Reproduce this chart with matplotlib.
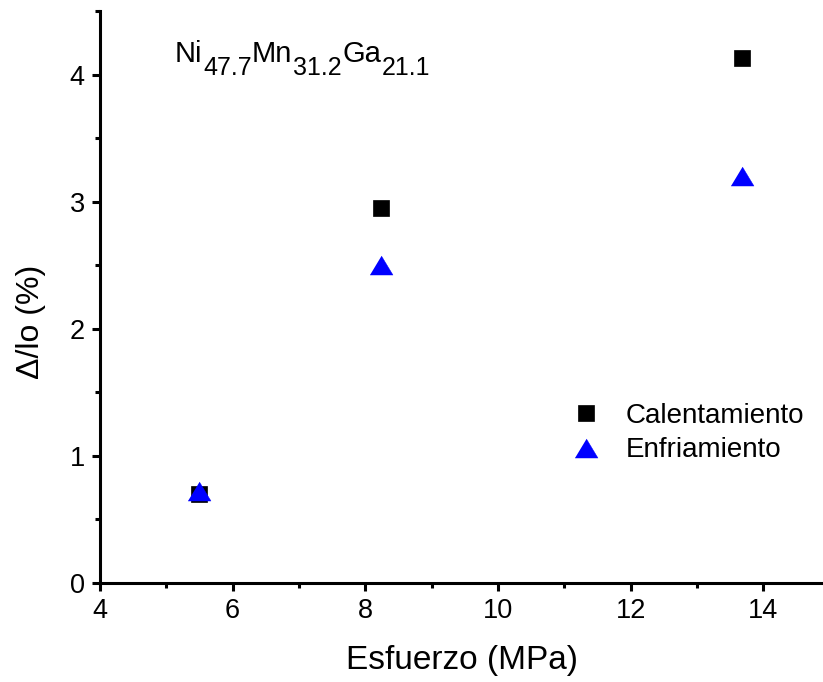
import matplotlib
matplotlib.use("Agg")
import matplotlib.pyplot as plt
from matplotlib.ticker import MultipleLocator

plt.rcParams['font.family'] = ['Liberation Sans', 'DejaVu Sans']

# Strain vs applied stress
stress_heat = [5.50, 8.23, 13.68]
strain_heat = [0.70, 2.95, 4.13]
stress_cool = [5.50, 8.23, 13.68]
strain_cool = [0.72, 2.50, 3.20]
label_heat = "Calentamiento"
label_cool = "Enfriamiento"
x_ticks = [4, 6, 8, 10, 12, 14]
y_ticks = [0, 1, 2, 3, 4]
# Alloy composition: (element, at.%)
composition = [("Ni", "47.7"), ("Mn", "31.2"), ("Ga", "21.1")]

W, H = 823, 682
fig = plt.figure(figsize=(W / 100, H / 100), dpi=100)
ax = fig.add_axes([100 / W, 1 - 582.7 / H, 1 - 100 / W, (582.7 - 11) / H])

tri = [(-1, -0.83), (1, -0.83), (0, 0.83)]
ax.plot(stress_heat, strain_heat, linestyle='none', marker='s', ms=12.2,
        mfc='black', mec='black', mew=0.5, label=label_heat, zorder=3)
ax.plot(stress_cool, strain_cool, linestyle='none', marker=tri, ms=16.5,
        mfc='blue', mec='blue', mew=0.3, label=label_cool, zorder=4)

ax.set_xlim(4, 14.9)
ax.set_ylim(0, 4.5)
ax.set_xticks(x_ticks)
ax.set_yticks(y_ticks)
ax.xaxis.set_minor_locator(MultipleLocator(1))
ax.yaxis.set_minor_locator(MultipleLocator(0.5))

for side in ('top', 'right'):
    ax.spines[side].set_visible(False)
for side in ('left', 'bottom'):
    ax.spines[side].set_linewidth(2.2)

ax.tick_params(which='major', direction='out', length=6, width=2.2,
               labelsize=19.5, pad=5)
ax.tick_params(which='minor', direction='out', length=3.5, width=2.2)

ax.set_xlabel("Esfuerzo (MPa)", fontsize=24)
ax.xaxis.set_label_coords(0.5, (582.7 - 645) / 571.7)
ax.set_ylabel("Δ/lo (%)", fontsize=23)
ax.yaxis.set_label_coords((46 - 100) / 723, (582.7 - 322) / 571.7)

ax.legend(loc='upper left', bbox_to_anchor=((571.8 - 100) / 723, (582.7 - 403) / 571.7),
          frameon=False, fontsize=20, handletextpad=0.95,
          labelspacing=0.3, borderaxespad=0, borderpad=0, handlelength=1.0)

# Composition formula with subscripts, laid out piece by piece
fig.canvas.draw()
renderer = fig.canvas.get_renderer()
x_pos, base_y = 175, H - 62
for elem, frac in composition:
    t = fig.text(x_pos, base_y, elem, transform=None, fontsize=21,
                 va='baseline', ha='left')
    x_pos = t.get_window_extent(renderer).x1 + 0.5
    s = fig.text(x_pos, base_y - 13, frac, transform=None, fontsize=18,
                 va='baseline', ha='left')
    x_pos = s.get_window_extent(renderer).x1 + 0.5

fig.savefig("out.png", dpi=100)
